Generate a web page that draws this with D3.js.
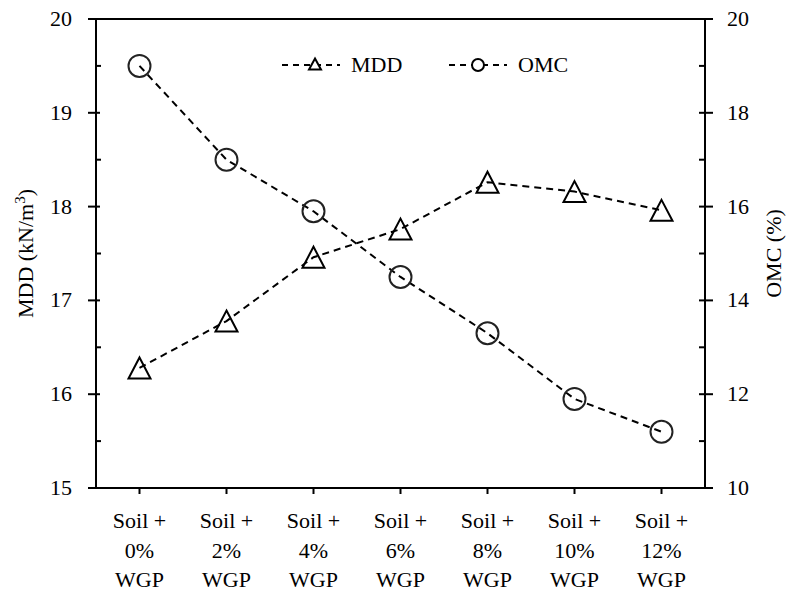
<!DOCTYPE html>
<html>
<head>
<meta charset="utf-8">
<script src="https://cdn.jsdelivr.net/npm/d3@7"></script>
</head>
<body style="margin:0;background:#fff">
<svg id="chart" width="786" height="593" style="font-family: 'Times New Roman'"></svg>
<script>
// data
const categories = ["0%", "2%", "4%", "6%", "8%", "10%", "12%"];
const mddValues = [16.28, 16.78, 17.46, 17.76, 18.26, 18.16, 17.96];
const omcValues = [19.0, 17.0, 15.9, 14.5, 13.3, 11.9, 11.2];
const leftTicks = [15, 16, 17, 18, 19, 20];
const rightTicks = [10, 12, 14, 16, 18, 20];

const FONT = "'Times New Roman'";

let svg = d3.select("#chart");
let plotLeft = 96, plotRight = 705, plotTop = 19, plotBottom = 488;

let xScale = d3.scalePoint()
  .domain(categories)
  .range([plotLeft, plotRight])
  .padding(0.5);
let yLeft = d3.scaleLinear().domain([15, 20]).range([plotBottom, plotTop]);
let yRight = d3.scaleLinear().domain([10, 20]).range([plotBottom, plotTop]);

// frame
svg.append("line").attr("x1", plotLeft).attr("x2", plotRight).attr("y1", plotTop).attr("y2", plotTop)
  .attr("stroke", "#000").attr("stroke-width", 2);

// left axis: major ticks cross, minor ticks inside
let gl = svg.append("g").attr("transform", "translate(" + plotLeft + ",0)");
gl.append("line").attr("y1", plotTop).attr("y2", plotBottom).attr("stroke", "#000").attr("stroke-width", 2);
gl.selectAll(".maj").data(leftTicks).enter().append("line")
  .attr("x1", -8).attr("x2", 4)
  .attr("y1", d => yLeft(d)).attr("y2", d => yLeft(d))
  .attr("stroke", "#000").attr("stroke-width", 2);
gl.selectAll(".min").data(leftTicks.slice(0, -1).map(d => d + 0.5)).enter().append("line")
  .attr("x1", 0).attr("x2", 5)
  .attr("y1", d => yLeft(d)).attr("y2", d => yLeft(d))
  .attr("stroke", "#000").attr("stroke-width", 2);
gl.selectAll("text").data(leftTicks).enter().append("text")
  .attr("x", -24).attr("y", d => yLeft(d) + 7)
  .attr("text-anchor", "end")
  .attr("font-family", FONT)
  .style("font-family", FONT).style("font-size", "22px")
  .text(d => d);

// right axis
let gr = svg.append("g").attr("transform", "translate(" + plotRight + ",0)");
gr.append("line").attr("y1", plotTop).attr("y2", plotBottom).attr("stroke", "#000").attr("stroke-width", 2);
gr.selectAll(".maj").data(rightTicks).enter().append("line")
  .attr("x1", -6).attr("x2", 8)
  .attr("y1", d => yRight(d)).attr("y2", d => yRight(d))
  .attr("stroke", "#000").attr("stroke-width", 2);
gr.selectAll(".min").data(rightTicks.slice(0, -1).map(d => d + 1)).enter().append("line")
  .attr("x1", -6).attr("x2", 0)
  .attr("y1", d => yRight(d)).attr("y2", d => yRight(d))
  .attr("stroke", "#000").attr("stroke-width", 2);
gr.selectAll("text").data(rightTicks).enter().append("text")
  .attr("x", 22).attr("y", d => yRight(d) + 7)
  .attr("text-anchor", "start")
  .attr("font-family", FONT)
  .style("font-family", FONT).style("font-size", "22px")
  .text(d => d);

// bottom axis
let gb = svg.append("g");
gb.append("line").attr("x1", plotLeft).attr("x2", plotRight).attr("y1", plotBottom).attr("y2", plotBottom)
  .attr("stroke", "#000").attr("stroke-width", 2);
gb.selectAll(".tk").data(categories).enter().append("line")
  .attr("x1", d => xScale(d)).attr("x2", d => xScale(d))
  .attr("y1", plotBottom).attr("y2", plotBottom + 6)
  .attr("stroke", "#000").attr("stroke-width", 2);
let labels = gb.selectAll(".lbl").data(categories).enter().append("text")
  .attr("text-anchor", "middle")
  .attr("font-family", FONT)
  .style("font-family", FONT).style("font-size", "22px");
labels.append("tspan").attr("x", d => xScale(d)).attr("y", 528).text("Soil +");
labels.append("tspan").attr("x", d => xScale(d)).attr("y", 558).text(d => d);
labels.append("tspan").attr("x", d => xScale(d)).attr("y", 587).text("WGP");

// axis titles
let ttl = svg.append("text")
  .attr("transform", "translate(33," + ((plotTop + plotBottom) / 2) + ") rotate(-90)")
  .attr("text-anchor", "middle")
  .attr("font-family", FONT)
  .style("font-family", FONT).style("font-size", "22px");
ttl.append("tspan").text("MDD (kN/m");
ttl.append("tspan").attr("dy", -8).style("font-size", "15px").text("3");
ttl.append("tspan").attr("dy", 8).text(")");

svg.append("text")
  .attr("transform", "translate(781," + ((plotTop + plotBottom) / 2) + ") rotate(-90)")
  .attr("text-anchor", "middle")
  .attr("font-family", FONT)
  .style("font-family", FONT).style("font-size", "22px")
  .text("OMC (%)");

// series
let mddLine = d3.line().x((d, i) => xScale(categories[i])).y(d => yLeft(d));
let omcLine = d3.line().x((d, i) => xScale(categories[i])).y(d => yRight(d));

svg.append("path").attr("d", mddLine(mddValues))
  .attr("fill", "none").attr("stroke", "#000").attr("stroke-width", 2)
  .attr("stroke-dasharray", "7,5");
svg.append("path").attr("d", omcLine(omcValues))
  .attr("fill", "none").attr("stroke", "#000").attr("stroke-width", 2)
  .attr("stroke-dasharray", "7,5");

function triPath(cx, cy, w, h) {
  return "M" + cx + "," + (cy - h / 2) + "L" + (cx + w / 2) + "," + (cy + h / 2) +
    "L" + (cx - w / 2) + "," + (cy + h / 2) + "Z";
}

svg.selectAll(".tri").data(mddValues).enter().append("path")
  .attr("d", (d, i) => triPath(xScale(categories[i]), yLeft(d), 22, 21))
  .attr("fill", "none").attr("stroke", "#000").attr("stroke-width", 2)
  .attr("stroke-linejoin", "miter");

svg.selectAll(".circ").data(omcValues).enter().append("circle")
  .attr("cx", (d, i) => xScale(categories[i])).attr("cy", d => yRight(d))
  .attr("r", 11)
  .attr("fill", "none").attr("stroke", "#222").attr("stroke-width", 2);

// legend
let lg = svg.append("g");
lg.append("line").attr("x1", 282).attr("x2", 340).attr("y1", 65).attr("y2", 65)
  .attr("stroke", "#000").attr("stroke-width", 2).attr("stroke-dasharray", "6,5");
lg.append("path").attr("d", triPath(315, 64, 12, 11))
  .attr("fill", "#fff").attr("stroke", "#000").attr("stroke-width", 2);
lg.append("text").attr("x", 351).attr("y", 72)
  .attr("font-family", FONT)
  .style("font-family", FONT).style("font-size", "22px").text("MDD");

lg.append("line").attr("x1", 449).attr("x2", 507).attr("y1", 65).attr("y2", 65)
  .attr("stroke", "#000").attr("stroke-width", 2).attr("stroke-dasharray", "6,5");
lg.append("circle").attr("cx", 478).attr("cy", 65).attr("r", 6)
  .attr("fill", "#fff").attr("stroke", "#000").attr("stroke-width", 2);
lg.append("text").attr("x", 518).attr("y", 72)
  .attr("font-family", FONT)
  .style("font-family", FONT).style("font-size", "22px").text("OMC");
</script>
</body>
</html>
